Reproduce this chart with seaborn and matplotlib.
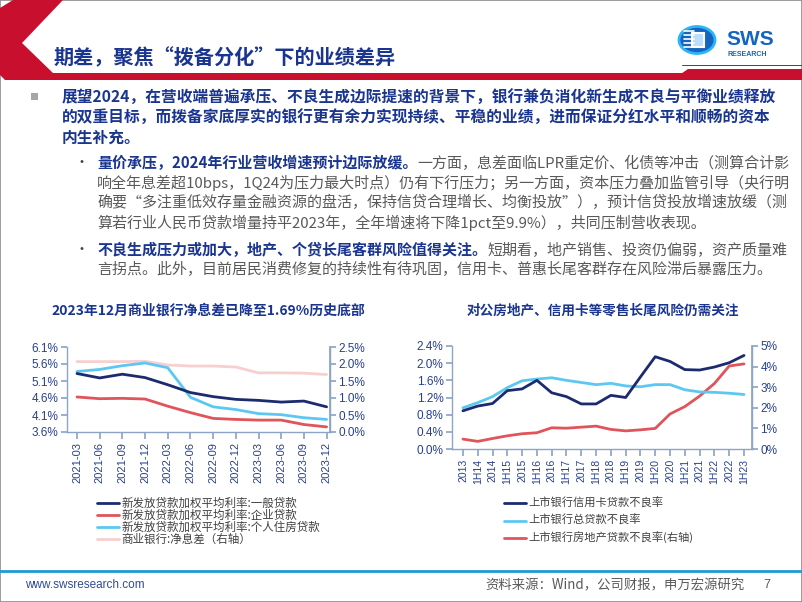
import matplotlib
matplotlib.use("Agg")
import matplotlib.pyplot as plt
from matplotlib.patches import Polygon, Rectangle, Circle
from matplotlib.lines import Line2D
import pandas as pd
import seaborn as sns

sns.set_theme(style="white")
plt.rcParams["font.family"] = ["Noto Sans CJK SC", "DejaVu Sans"]
plt.rcParams["axes.unicode_minus"] = False

W, H = 802, 602

# ---- left chart: loan rates (left axis) and NIM (right axis), %
quarters = ["2021-03", "2021-06", "2021-09", "2021-12", "2022-03", "2022-06",
            "2022-09", "2022-12", "2023-03", "2023-06", "2023-09", "2023-12"]
general_rate = [5.32, 5.19, 5.30, 5.20, 4.99, 4.76, 4.64, 4.56, 4.53, 4.48, 4.51, 4.34]
corp_rate = [4.63, 4.58, 4.59, 4.57, 4.36, 4.17, 4.00, 3.97, 3.95, 3.95, 3.82, 3.75]
mortgage_rate = [5.38, 5.44, 5.55, 5.63, 5.49, 4.62, 4.34, 4.26, 4.14, 4.11, 4.02, 3.97]
bank_nim = [2.07, 2.07, 2.07, 2.08, 1.97, 1.94, 1.94, 1.91, 1.74, 1.74, 1.73, 1.69]

# ---- right chart: NPL ratios of listed banks, %
periods = ["2013", "1H14", "2014", "1H15", "2015", "1H16", "2016", "1H17", "2017", "1H18",
           "2018", "1H19", "2019", "1H20", "2020", "1H21", "2021", "1H22", "2022", "1H23"]
card_npl = [0.89, 1.00, 1.06, 1.36, 1.40, 1.60, 1.31, 1.22, 1.05, 1.05,
            1.25, 1.20, 1.68, 2.15, 2.04, 1.85, 1.84, 1.91, 2.01, 2.18]
total_npl = [0.96, 1.08, 1.22, 1.43, 1.59, 1.63, 1.66, 1.60, 1.55, 1.50,
             1.53, 1.47, 1.45, 1.50, 1.50, 1.38, 1.33, 1.32, 1.30, 1.27]
estate_npl = [0.48, 0.37, 0.51, 0.64, 0.74, 0.79, 1.03, 1.01, 1.06, 1.11,
              0.95, 0.88, 0.93, 1.00, 1.70, 2.06, 2.57, 3.18, 4.03, 4.13]

NAVY = "#1C2B6E"
RED = "#E0545A"
SKY = "#5CC8F2"
PINK = "#F7CFD0"
BLUE_TXT = "#1A3590"
TICK_TXT = "#27408B"
SPINE = "#8DA4C8"
GRAY_TXT = "#595959"
TICK_FONT = "Liberation Sans"


def px(x, y):
    return x / W, 1 - y / H


def rect_px(x0, y0, x1, y1):
    return [x0 / W, 1 - y1 / H, (x1 - x0) / W, (y1 - y0) / H]


fig = plt.figure(figsize=(W / 100, H / 100), dpi=100)
renderer = fig.canvas.get_renderer()

# slide frame
fig.add_artist(Rectangle((0, 0), 1, 1, transform=fig.transFigure, fill=False,
                         edgecolor="#8C8C8C", linewidth=1.2))

# ---- header
chevron = [(13, 0), (63, 0), (22, 43), (53, 73), (802, 73), (802, 80), (5, 80), (0, 75), (0, 8)]
fig.add_artist(Polygon([px(*p) for p in chevron], closed=True, transform=fig.transFigure,
                       facecolor="#C8102E", edgecolor="none"))
fig.add_artist(Polygon([px(*p) for p in [(688, 69), (802, 69), (802, 80), (672, 80)]], closed=True,
                       transform=fig.transFigure, facecolor="#C8102E", edgecolor="none"))
fig.add_artist(Line2D([682 / W, 1], [1 - 65 / H] * 2, transform=fig.transFigure,
                      color="#B01A1A", lw=0.7))
fig.text(*px(54, 58), "期差，聚焦“拨备分化”下的业绩差异", fontsize=14.5, fontweight="bold",
         color=BLUE_TXT, va="center", ha="left")

# logo
fig.add_artist(Circle(px(697, 40), 18 / W, transform=fig.transFigure, facecolor="#1565C0",
                      edgecolor="#29B6F6", linewidth=2))
for yy in [31, 35, 39, 43, 47]:
    fig.add_artist(Line2D([684 / W, 694 / W], [1 - yy / H] * 2, transform=fig.transFigure,
                          color="white", lw=1.2))
fig.add_artist(Rectangle(px(692, 47), 12 / W, 14 / H, transform=fig.transFigure,
                         facecolor="#BBDEFB", edgecolor="white", linewidth=1.5))
fig.text(*px(726, 45), "SWS", fontsize=15, fontweight="bold", color="#1565C0",
         family=TICK_FONT, va="baseline", ha="left")
fig.text(*px(728, 56), "RESEARCH", fontsize=5, fontweight="bold", color="#1565C0",
         family=TICK_FONT, va="baseline", ha="left")


# ---- body text
def runs(x, y, parts, size):
    for text, color, weight in parts:
        t = fig.text(*px(x, y), text, color=color, fontsize=size, fontweight=weight,
                     va="center", ha="left")
        x = t.get_window_extent(renderer).x1


fig.add_artist(Rectangle(px(31, 100), 7 / W, 7 / H, transform=fig.transFigure,
                         facecolor="#A6A6A6", edgecolor="none"))
main_lines = [
    "展望2024，在营收端普遍承压、不良生成边际提速的背景下，银行兼负消化新生成不良与平衡业绩释放",
    "的双重目标，而拨备家底厚实的银行更有余力实现持续、平稳的业绩，进而保证分红水平和顺畅的资本",
    "内生补充。",
]
for i, line in enumerate(main_lines):
    runs(62, 98 + i * 19.7, [(line, BLUE_TXT, "bold")], 11.3)

sub_size = 10.8
fig.text(*px(75, 163), "•", fontsize=10, color="#404040", va="center")
runs(97, 163, [("量价承压，2024年行业营收增速预计边际放缓。", BLUE_TXT, "bold"),
               ("一方面，息差面临LPR重定价、化债等冲击（测算合计影", GRAY_TXT, "normal")], sub_size)
sub_lines = [
    "响全年息差超10bps，1Q24为压力最大时点）仍有下行压力；另一方面，资本压力叠加监管引导（央行明",
    "确要“多注重低效存量金融资源的盘活，保持信贷合理增长、均衡投放”），预计信贷投放增速放缓（测",
    "算若行业人民币贷款增量持平2023年，全年增速将下降1pct至9.9%），共同压制营收表现。",
]
for i, line in enumerate(sub_lines):
    runs(97, 183 + i * 19.7, [(line, GRAY_TXT, "normal")], sub_size)

fig.text(*px(75, 250), "•", fontsize=10, color="#404040", va="center")
runs(97, 250, [("不良生成压力或加大，地产、个贷长尾客群风险值得关注。", BLUE_TXT, "bold"),
               ("短期看，地产销售、投资仍偏弱，资产质量难", GRAY_TXT, "normal")], sub_size)
runs(97, 270, [("言拐点。此外，目前居民消费修复的持续性有待巩固，信用卡、普惠长尾客群存在风险滞后暴露压力。",
                GRAY_TXT, "normal")], sub_size)

fig.text(*px(51, 311), "2023年12月商业银行净息差已降至1.69%历史底部", fontsize=10,
         fontweight="bold", color=BLUE_TXT, va="center")
fig.text(*px(467, 311), "对公房地产、信用卡等零售长尾风险仍需关注", fontsize=9.8,
         fontweight="bold", color=BLUE_TXT, va="center")


def style_axes(ax, twin):
    for side in ["top", "left", "right", "bottom"]:
        ax.spines[side].set_visible(False)
    for side in ["left", "right", "bottom"]:
        ax.spines[side].set_visible(True)
        ax.spines[side].set_color(SPINE)
        ax.spines[side].set_linewidth(1)
    twin.spines[:].set_visible(False)
    twin.spines["right"].set_visible(True)
    twin.spines["right"].set_color(SPINE)
    ax.tick_params(axis="y", left=True, direction="out", length=4, color=SPINE,
                   labelcolor=TICK_TXT, labelsize=8.5, pad=2)
    ax.tick_params(axis="x", bottom=True, direction="out", length=5, color=SPINE,
                   labelcolor=TICK_TXT, pad=2)
    twin.tick_params(axis="y", right=True, direction="out", length=4, color=SPINE,
                     labelcolor=TICK_TXT, labelsize=8.5, pad=2)
    ax.set_xlabel("")
    ax.set_ylabel("")
    twin.set_ylabel("")
    ax.grid(False)
    twin.grid(False)


# ---- left chart
left_df = pd.DataFrame({"x": range(len(quarters)), "general": general_rate, "corp": corp_rate,
                        "mortgage": mortgage_rate, "nim": bank_nim})
axL = fig.add_axes(rect_px(67, 347, 330, 432))
axL2 = axL.twinx()
axL.set_zorder(axL2.get_zorder() + 1)
axL.patch.set_visible(False)
sns.lineplot(data=left_df, x="x", y="nim", ax=axL2, color=PINK, lw=2, legend=False)
sns.lineplot(data=left_df, x="x", y="corp", ax=axL, color=RED, lw=2, legend=False)
sns.lineplot(data=left_df, x="x", y="mortgage", ax=axL, color=SKY, lw=2, legend=False)
sns.lineplot(data=left_df, x="x", y="general", ax=axL, color=NAVY, lw=2, legend=False)
axL.set_xlim(-0.44, 11.15)
axL.set_ylim(3.6, 6.1)
left_ticks = [3.6, 4.1, 4.6, 5.1, 5.6, 6.1]
axL.set_yticks(left_ticks, [f"{v:.1f}%" for v in left_ticks], fontfamily=TICK_FONT)
axL.set_xticks(range(len(quarters)), quarters, rotation=90, fontsize=8, fontfamily=TICK_FONT)
axL2.set_ylim(0, 2.5)
nim_ticks = [0, 0.5, 1.0, 1.5, 2.0, 2.5]
axL2.set_yticks(nim_ticks, [f"{v:.1f}%" for v in nim_ticks], fontfamily=TICK_FONT)
style_axes(axL, axL2)

left_legend = [("新发放贷款加权平均利率:一般贷款", NAVY), ("新发放贷款加权平均利率:企业贷款", RED),
               ("新发放贷款加权平均利率:个人住房贷款", SKY), ("商业银行:净息差（右轴）", PINK)]
for i, (label, color) in enumerate(left_legend):
    y = 503 + i * 12
    fig.add_artist(Line2D([97 / W, 119 / W], [1 - y / H] * 2, transform=fig.transFigure,
                          color=color, lw=2))
    fig.text(*px(121, y), label, fontsize=8.3, color="#404040", va="center")

# ---- right chart
right_df = pd.DataFrame({"x": range(len(periods)), "card": card_npl, "total": total_npl,
                         "estate": estate_npl})
axR = fig.add_axes(rect_px(452, 346, 752, 449))
axR2 = axR.twinx()
axR.set_zorder(axR2.get_zorder() + 1)
axR.patch.set_visible(False)
sns.lineplot(data=right_df, x="x", y="estate", ax=axR2, color=RED, lw=2, legend=False)
sns.lineplot(data=right_df, x="x", y="total", ax=axR, color=SKY, lw=2, legend=False)
sns.lineplot(data=right_df, x="x", y="card", ax=axR, color=NAVY, lw=2, legend=False)
axR.set_xlim(-0.74, 19.54)
axR.set_ylim(0, 2.4)
npl_ticks = [0, 0.4, 0.8, 1.2, 1.6, 2.0, 2.4]
axR.set_yticks(npl_ticks, [f"{v:.1f}%" for v in npl_ticks], fontfamily=TICK_FONT)
axR.set_xticks(range(len(periods)), periods, rotation=90, fontsize=7.5, fontfamily=TICK_FONT)
axR2.set_ylim(0, 5)
axR2.set_yticks(range(6), [f"{v}%" for v in range(6)], fontfamily=TICK_FONT)
style_axes(axR, axR2)

right_legend = [("上市银行信用卡贷款不良率", NAVY), ("上市银行总贷款不良率", SKY),
                ("上市银行房地产贷款不良率(右轴)", RED)]
for i, (label, color) in enumerate(right_legend):
    y = 503 + i * 17.5
    fig.add_artist(Line2D([504 / W, 526 / W], [1 - y / H] * 2, transform=fig.transFigure,
                          color=color, lw=2))
    fig.text(*px(528, y), label, fontsize=8.1, color="#404040", va="center")

# ---- footer
fig.add_artist(Line2D([0, 1], [1 - 571 / H] * 2, transform=fig.transFigure, color="#1E9BD7", lw=2))
fig.text(*px(25, 585), "www.swsresearch.com", fontsize=8.5, color="#2F4A9A",
         family=TICK_FONT, va="center")
fig.text(*px(485, 585), "资料来源：Wind，公司财报，申万宏源研究", fontsize=9.6,
         color=GRAY_TXT, va="center")
fig.text(*px(763, 585), "7", fontsize=9, color=GRAY_TXT, family=TICK_FONT, va="center")

fig.savefig("out.png", dpi=100)
